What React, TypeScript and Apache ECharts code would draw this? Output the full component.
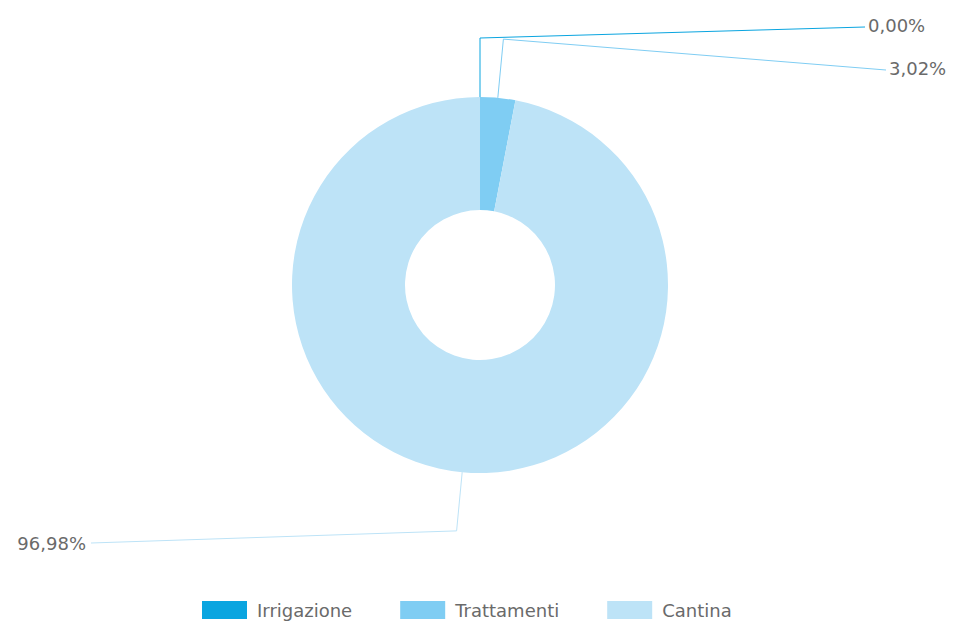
import React, { useEffect, useRef } from "react";
import * as echarts from "echarts";

const categories = ["Irrigazione", "Trattamenti", "Cantina"];
const values = [0, 3.02, 96.98];
const colors = ["#0aa5e0", "#7fcdf3", "#bde3f7"];
// label anchor placements (screen px): [x, y, align]
const labelSpots: [number, number, string][] = [
  [868, 25, "left"],
  [889, 68, "left"],
  [86, 543, "right"],
];

export default function App() {
  const ref = useRef<HTMLDivElement>(null);
  useEffect(() => {
    if (!ref.current) return;
    const chart = echarts.init(ref.current, undefined, { renderer: "svg" });
    const fmt = (v: number) => v.toFixed(2).replace(".", ",") + "%";
    chart.setOption({
      animation: false,
      color: colors,
      legend: {
        top: 596,
        left: 197,
        icon: "rect",
        itemWidth: 45,
        itemHeight: 18,
        itemGap: 48,
        textStyle: {
          fontFamily: "DejaVu Sans",
          fontSize: 18,
          color: "#6a6a6a",
          padding: [0, 0, 0, 5],
        },
        data: categories,
      },
      series: [
        {
          type: "pie",
          center: [480, 285],
          radius: [75, 188],
          startAngle: 90,
          clockwise: true,
          avoidLabelOverlap: false,
          label: {
            show: true,
            formatter: (p: any) => fmt(p.value),
            fontFamily: "DejaVu Sans",
            fontSize: 18,
            color: "#6a6a6a",
          },
          labelLine: { show: true, length: 59, length2: 30, lineStyle: { width: 1 } },
          labelLayout: (p: any) => {
            const s = labelSpots[p.dataIndex];
            const pts = p.labelLinePoints;
            const endX = s[2] === "left" ? s[0] - 3 : s[0] + 5;
            const res: any = {
              x: s[0],
              y: s[1],
              align: s[2],
              verticalAlign: "middle",
            };
            if (pts && pts.length >= 2) {
              res.labelLinePoints = [pts[0], pts[1], [endX, s[1] + (p.dataIndex === 2 ? 0 : 2)]];
            }
            return res;
          },
          emphasis: { disabled: true },
          data: categories.map((c, i) => ({ name: c, value: values[i] })),
        },
      ],
    });
    return () => chart.dispose();
  }, []);
  return (
    <div
      ref={ref}
      style={{ position: "fixed", left: 0, top: 0, width: 956, height: 628, background: "#fff" }}
    />
  );
}
